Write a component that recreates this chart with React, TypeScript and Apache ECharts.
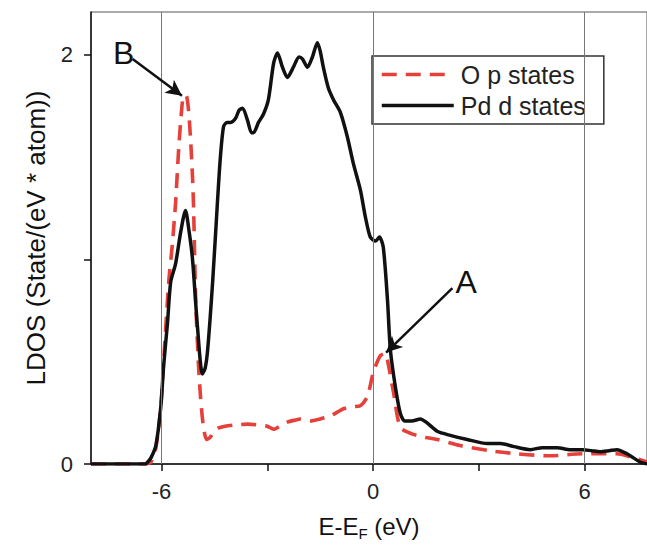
import React, { useEffect, useRef } from "react";
import * as echarts from "echarts";

// ---- data ----
const pdEnergy = [-8, -6.9, -6.45, -6.39, -6.3, -6.16, -6.02, -5.94, -5.83, -5.74, -5.6, -5.46, -5.32, -5.22, -5.12, -4.98, -4.84, -4.76, -4.69, -4.55, -4.41, -4.33, -4.24, -4.14, -4.04, -3.9, -3.8, -3.7, -3.56, -3.45, -3.39, -3.25, -3.11, -2.97, -2.82, -2.71, -2.57, -2.43, -2.26, -2.1, -2.0, -1.86, -1.72, -1.58, -1.5, -1.41, -1.27, -1.12, -0.93, -0.73, -0.56, -0.36, -0.22, -0.08, 0.07, 0.18, 0.29, 0.41, 0.49, 0.63, 0.77, 0.9, 1.1, 1.34, 1.54, 1.82, 2.19, 2.67, 3.24, 3.61, 4.0, 4.46, 4.8, 5.22, 5.6, 5.95, 6.2, 6.44, 6.7, 6.92, 7.2, 7.57, 7.77];
const pdDos = [0, 0, 0, 0.01, 0.03, 0.09, 0.28, 0.48, 0.69, 0.89, 0.98, 1.13, 1.24, 1.14, 1.0, 0.67, 0.44, 0.47, 0.56, 0.89, 1.29, 1.5, 1.65, 1.67, 1.67, 1.69, 1.73, 1.74, 1.68, 1.62, 1.62, 1.67, 1.71, 1.78, 1.96, 2.01, 1.94, 1.89, 1.94, 1.99, 1.98, 1.94, 1.99, 2.06, 2.02, 1.94, 1.84, 1.78, 1.72, 1.6, 1.47, 1.34, 1.21, 1.11, 1.09, 1.11, 1.06, 0.8, 0.56, 0.38, 0.25, 0.21, 0.21, 0.22, 0.2, 0.16, 0.14, 0.12, 0.1, 0.1, 0.085, 0.07, 0.08, 0.08, 0.07, 0.07, 0.065, 0.06, 0.065, 0.07, 0.05, 0.01, 0];

const oEnergy = [-8, -6.45, -6.3, -6.16, -6.02, -5.94, -5.8, -5.69, -5.6, -5.51, -5.42, -5.37, -5.3, -5.24, -5.18, -5.12, -5.09, -5.03, -4.95, -4.89, -4.81, -4.72, -4.62, -4.52, -4.4, -4.2, -3.96, -3.56, -3.2, -3.0, -2.82, -2.6, -2.43, -2.2, -2.06, -1.78, -1.5, -1.21, -1.0, -0.84, -0.6, -0.36, -0.16, 0.01, 0.21, 0.35, 0.43, 0.58, 0.77, 1.06, 1.25, 1.5, 1.82, 2.47, 3.32, 4.09, 5.02, 5.95, 6.92, 7.29, 7.77];
const oDos = [0, 0, 0.01, 0.08, 0.28, 0.5, 0.88, 1.08, 1.28, 1.55, 1.75, 1.8, 1.8, 1.74, 1.6, 1.4, 1.25, 0.8, 0.48, 0.32, 0.18, 0.12, 0.13, 0.16, 0.175, 0.185, 0.19, 0.195, 0.19, 0.185, 0.17, 0.19, 0.205, 0.215, 0.22, 0.21, 0.22, 0.235, 0.255, 0.27, 0.28, 0.285, 0.33, 0.45, 0.53, 0.54, 0.49, 0.35, 0.18, 0.15, 0.14, 0.13, 0.12, 0.09, 0.065, 0.05, 0.04, 0.05, 0.05, 0.035, 0.01];

const seriesNames = ["O p states", "Pd d states"];
const xTicks = [-6, -3, 0, 3, 6];
const xTickLabels = [-6, 0, 6];
const yTicks = [0, 1, 2];
const yTickLabels = [0, 2];
const fermiGridLines = [-6, 0, 6];

// annotations
const annotationLabels = ["B", "A"];
const annotationLabelPos = [[-7.07, 2.01], [2.64, 0.89]];
const arrowStarts = [[-6.82, 1.98], [2.25, 0.86]];
const arrowEnds = [[-5.42, 1.8], [0.37, 0.545]];

const FONT = "'Liberation Sans', Arial, Helvetica, sans-serif";

export default function App() {
  const ref = useRef<HTMLDivElement>(null);
  useEffect(() => {
    if (!ref.current) return;
    const chart = echarts.init(ref.current, null, { renderer: "svg" });
    const xMin = -8;
    const xMax = 7.77;
    const yMin = 0;
    const yMax = 2.21;
    chart.setOption({
      animation: false,
      backgroundColor: "#ffffff",
      textStyle: { fontFamily: FONT },
      grid: {
        left: 91,
        top: 12,
        right: 0,
        bottom: 81,
        show: true,
        borderColor: "#555",
        borderWidth: 1,
        backgroundColor: "transparent",
      },
      legend: {
        data: seriesNames,
        orient: "vertical",
        left: 372,
        top: 56,
        padding: [6, 18, 6, 8],
        itemGap: 6,
        itemWidth: 72,
        itemHeight: 14,
        borderColor: "#333",
        borderWidth: 1.5,
        borderRadius: 0,
        backgroundColor: "#ffffff",
        itemStyle: { opacity: 0, borderWidth: 0 },
        lineStyle: { width: 3.5 },
        textStyle: { fontSize: 25, color: "#222", fontFamily: FONT, padding: [0, 0, 0, 2] },
      },
      xAxis: {
        type: "value",
        min: xMin,
        max: xMax,
        name: "E-E{sub|F} (eV)",
        nameLocation: "middle",
        nameGap: 48,
        nameTextStyle: {
          fontSize: 24,
          color: "#111",
          fontFamily: FONT,
          rich: { sub: { fontSize: 15, verticalAlign: "bottom", padding: [14, 0, 0, 0], color: "#111", fontFamily: FONT } },
        },
        axisLine: { show: true, onZero: false, lineStyle: { color: "#111", width: 1.5 } },
        axisTick: { show: true, inside: false, length: 7, customValues: xTicks, lineStyle: { color: "#111", width: 1.5 } },
        axisLabel: { show: true, customValues: xTickLabels, margin: 16, fontSize: 22, color: "#222", fontFamily: FONT },
        splitLine: { show: false },
      },
      yAxis: {
        type: "value",
        min: yMin,
        max: yMax,
        name: "LDOS (State/(eV * atom))",
        nameLocation: "middle",
        nameGap: 42,
        nameTextStyle: { fontSize: 26, color: "#111", fontFamily: FONT },
        axisLine: { show: true, onZero: false, lineStyle: { color: "#111", width: 1.5 } },
        axisTick: { show: true, inside: false, length: 7, customValues: yTicks, lineStyle: { color: "#111", width: 1.5 } },
        axisLabel: { show: true, customValues: yTickLabels, margin: 18, fontSize: 22, color: "#222", fontFamily: FONT },
        splitLine: { show: false },
      },
      series: [
        {
          name: "grid-lines",
          type: "line",
          data: [],
          z: 1,
          silent: true,
          markLine: {
            silent: true,
            symbol: ["none", "none"],
            label: { show: false },
            lineStyle: { color: "#777", width: 1, type: "solid" },
            data: fermiGridLines.map((v) => ({ xAxis: v })),
          },
        },
        {
          name: seriesNames[0],
          type: "line",
          data: oEnergy.map((e, i) => [e, oDos[i]]),
          symbol: "none",
          smooth: 0.25,
          z: 3,
          lineStyle: { color: "#e5413a", width: 3.6, type: [15, 9] },
          itemStyle: { color: "#e5413a" },
        },
        {
          name: seriesNames[1],
          type: "line",
          data: pdEnergy.map((e, i) => [e, pdDos[i]]),
          symbol: "none",
          smooth: 0.25,
          z: 4,
          lineStyle: { color: "#111", width: 3.5, type: "solid" },
          itemStyle: { color: "#111" },
        },
        {
          name: "annotations",
          type: "line",
          data: [],
          z: 5,
          silent: true,
          markLine: {
            silent: true,
            symbol: ["none", "arrow"],
            symbolSize: [12, 16],
            label: { show: false },
            lineStyle: { color: "#111", width: 2.5, type: "solid" },
            data: arrowStarts.map((s, i) => [{ coord: s }, { coord: arrowEnds[i] }]),
          },
          markPoint: {
            silent: true,
            symbol: "circle",
            symbolSize: 1,
            itemStyle: { color: "rgba(0,0,0,0)" },
            label: { show: true, position: "inside", formatter: "{b}", fontSize: 32, color: "#111", fontFamily: FONT },
            data: annotationLabels.map((t, i) => ({ name: t, coord: annotationLabelPos[i] })),
          },
        },
      ],
    });
    return () => chart.dispose();
  }, []);
  return (
    <div
      ref={ref}
      style={{ position: "absolute", left: 0, top: 0, width: 647, height: 546 }}
    />
  );
}
